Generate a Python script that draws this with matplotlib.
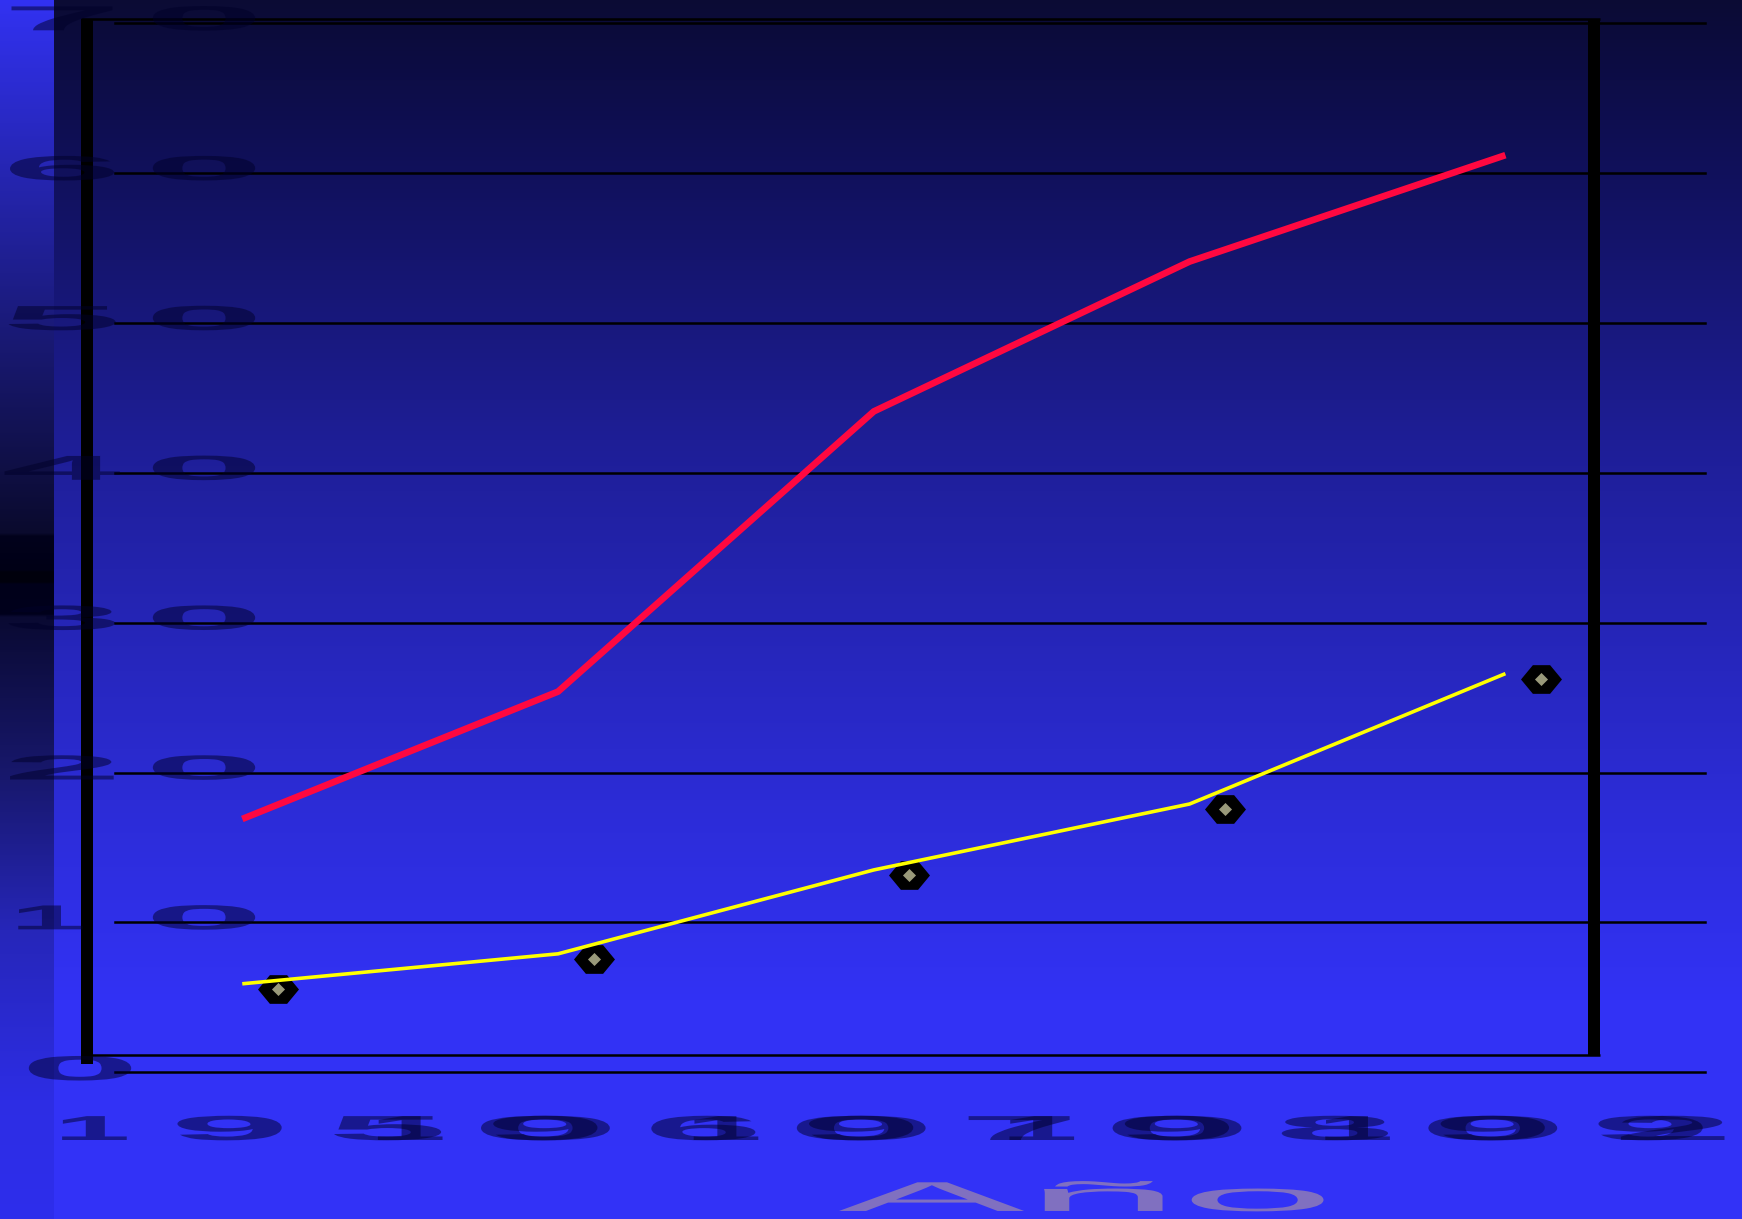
import numpy as np
import matplotlib
matplotlib.use('Agg')
import matplotlib.pyplot as plt
from matplotlib.patheffects import AbstractPathEffect
from matplotlib.transforms import Affine2D, ScaledTranslation, blended_transform_factory

years = ['1950', '1960', '1970', '1980', '1992']
red_vals = [16.9, 25.4, 44.1, 54.1, 61.2]
yellow_vals = [5.9, 7.9, 13.5, 17.9, 26.6]
y_ticks = [0, 10, 20, 30, 40, 50, 60, 70]
y_labels = ['0', '10', '20', '30', '40', '50', '60', '70']
x_title = 'Año'

W, H, DPI = 1742, 1219, 100


class Stretch(AbstractPathEffect):
    """Widen text glyphs horizontally about their own centre."""

    def __init__(self, sx):
        super().__init__()
        self.sx = sx

    def draw_path(self, renderer, gc, tpath, affine, rgbFace=None):
        ext = tpath.get_extents(affine)
        cx = 0.5 * (ext.x0 + ext.x1)
        wide = affine + Affine2D().translate(-cx, 0).scale(self.sx, 1).translate(cx, 0)
        renderer.draw_path(gc, tpath, wide, rgbFace)


def ramp(stops):
    ys = [s[0] for s in stops]
    rows = np.arange(H) + 0.5
    chans = [np.interp(rows, ys, [s[1][i] for s in stops]) for i in range(3)]
    return np.stack(chans, axis=1)[:, None, :] / 255.0


main_bg = ramp([(0, (11, 11, 52)), (120, (14, 14, 80)), (440, (30, 30, 150)),
                (800, (44, 44, 214)), (1000, (50, 50, 245)), (1219, (51, 51, 248))])
strip_bg = ramp([(0, (50, 50, 242)), (300, (28, 28, 130)), (460, (16, 16, 72)),
                 (533, (10, 10, 45)), (536, (2, 2, 28)), (570, (0, 0, 22)),
                 (572, (0, 0, 12)), (582, (0, 0, 12)), (584, (0, 0, 26)),
                 (614, (0, 0, 28)), (617, (10, 10, 50)), (780, (24, 24, 110)),
                 (930, (38, 38, 185)), (1100, (45, 45, 228)), (1219, (46, 46, 236))])

fig = plt.figure(figsize=(W / DPI, H / DPI), dpi=DPI)

# backdrop: gradient panel plus the darker strip on the left, and the heavy frame
bg = fig.add_axes([0, 0, 1, 1], zorder=0)
bg.imshow(main_bg, extent=(0, W, H, 0), aspect='auto', interpolation='nearest')
bg.imshow(strip_bg, extent=(0, 53, H, 0), aspect='auto', interpolation='nearest')
thick = 12 * 72 / DPI
thin = 2.5 * 72 / DPI
bg.plot([87, 87], [19, 1064], color='black', lw=thick, solid_capstyle='butt')
bg.plot([1594, 1594], [19, 1055], color='black', lw=thick, solid_capstyle='butt')
bg.plot([81, 1600], [19, 19], color='black', lw=thin, solid_capstyle='butt')
bg.plot([81, 1600], [1055, 1055], color='black', lw=thin, solid_capstyle='butt')
bg.set_xlim(0, W)
bg.set_ylim(H, 0)
bg.axis('off')

ax = fig.add_axes([115 / W, (H - 1072.2) / H, 1590 / W, (1072.2 - 23.3) / H], zorder=1)
ax.patch.set_alpha(0)
x = np.arange(len(years))
ax.set_xlim(-0.403, 4.632)
ax.set_ylim(0, 70)
ax.set_xticks([])
ax.set_yticks([])
for s in ax.spines.values():
    s.set_visible(False)

for v in y_ticks:
    ax.axhline(v, color='black', lw=1.8, clip_on=False, zorder=1)

ax.plot(x, red_vals, color='#ff0840', lw=4.8, solid_capstyle='butt', zorder=3)

# markers sit a little right of and below the yellow series
shift = ax.transData + ScaledTranslation(35.5 / DPI, -5 / DPI, fig.dpi_scale_trans)
hex_mark = [(-1, 0), (-0.42, 0.7), (0.42, 0.7), (1, 0), (0.42, -0.7), (-0.42, -0.7), (-1, 0)]
dia_mark = [(-1, 0), (0, 1), (1, 0), (0, -1), (-1, 0)]
ax.plot(x, yellow_vals, ls='none', marker=hex_mark, ms=29.5, mfc='black', mew=0,
        transform=shift, clip_on=False, zorder=3)
ax.plot(x, yellow_vals, ls='none', marker=dia_mark, ms=9.4, mfc='#99997a', mew=0,
        transform=shift, clip_on=False, zorder=3.5)
ax.plot(x, yellow_vals, color='#ffff00', lw=2.6, solid_capstyle='butt', zorder=4)

digit_kw = dict(family='Liberation Sans', weight='bold', fontsize=25, color='#000028',
                alpha=0.5, ha='center', va='baseline')

# y labels, one glyph at a time, spread wide
ylab_tf = blended_transform_factory(fig.transFigure, ax.transData)
for v, lab in zip(y_ticks, y_labels):
    cols = [80] if len(lab) == 1 else [62, 204]
    drop = 8 if len(lab) == 1 else 7
    tf = ylab_tf + ScaledTranslation(0, -drop / DPI, fig.dpi_scale_trans)
    for ch, px in zip(lab, cols):
        sx = 6.2
        if ch == '1':
            sx, px = 4.0, px - 12
        ax.text(px / W, v, ch, transform=tf, path_effects=[Stretch(sx)], **digit_kw)

# year labels: characters of neighbouring years run into each other
xlab_tf = blended_transform_factory(ax.transData, fig.transFigure)
x_last = 4.53
for j, yr in enumerate(years):
    for c, ch in enumerate(yr):
        xc = min(j + 0.21 + (c - 1.5) * 0.5, x_last)
        sx = 6.2
        if ch == '0':
            sx = 7.8
        elif ch == '1':
            sx, xc = 4.0, xc + 0.07
        ax.text(xc, (H - 1140) / H, ch, transform=xlab_tf,
                path_effects=[Stretch(sx)], **digit_kw)

ax.set_xlabel(x_title, family='Liberation Sans', fontsize=30, color='#8070c0',
              path_effects=[Stretch(6.7)])
ax.xaxis.set_label_coords(0.6082, -0.1323)
ax.xaxis.label.set_verticalalignment('baseline')

fig.savefig('out.png', dpi=DPI)
